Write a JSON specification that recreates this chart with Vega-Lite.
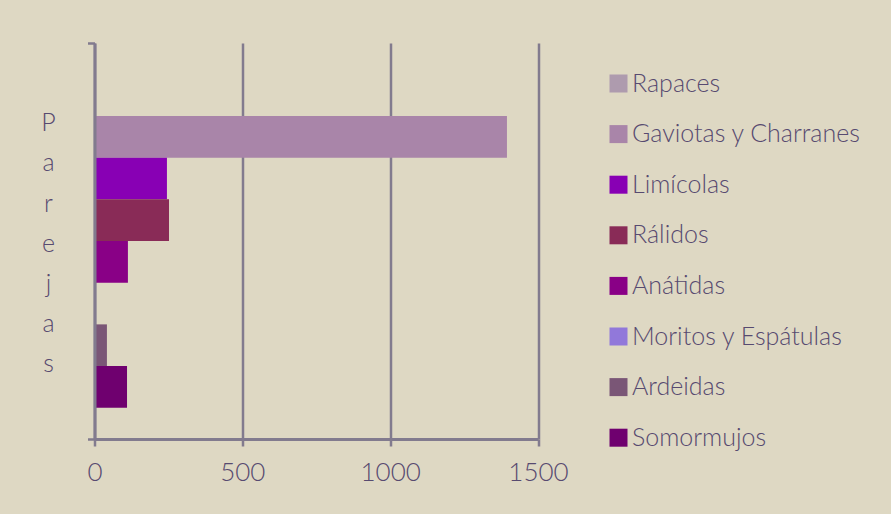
{
  "$schema": "https://vega.github.io/schema/vega-lite/v6.json",
  "width": 443.5,
  "height": 396,
  "autosize": {"type": "none"},
  "padding": {"left": 94.5, "top": 43, "right": 353, "bottom": 75},
  "background": "#ded8c3",
  "config": {
    "font": "Lato",
    "view": {"stroke": null},
    "axis": {"labelColor": "#574a70", "titleColor": "#574a70"}
  },
  "data": {
    "values": [
      {"especie": "Rapaces", "parejas": 0, "grupo": "Parejas"},
      {"especie": "Gaviotas y Charranes", "parejas": 1395, "grupo": "Parejas"},
      {"especie": "Limícolas", "parejas": 245, "grupo": "Parejas"},
      {"especie": "Rálidos", "parejas": 252, "grupo": "Parejas"},
      {"especie": "Anátidas", "parejas": 113, "grupo": "Parejas"},
      {"especie": "Moritos y Espátulas", "parejas": 0, "grupo": "Parejas"},
      {"especie": "Ardeidas", "parejas": 42, "grupo": "Parejas"},
      {"especie": "Somormujos", "parejas": 110, "grupo": "Parejas"}
    ]
  },
  "layer": [
    {
      "mark": {"type": "bar", "opacity": 0},
      "encoding": {
        "y": {
          "field": "grupo",
          "type": "nominal",
          "scale": {"paddingInner": 0, "paddingOuter": 0},
          "axis": {
            "title": ["P", "a", "r", "e", "j", "a", "s"],
            "labels": false,
            "grid": false,
            "bandPosition": 1,
            "tickExtra": true,
            "tickSize": 7,
            "tickColor": "#827b8e",
            "tickWidth": 2.5,
            "domainColor": "#827b8e",
            "domainWidth": 3,
            "zindex": 1,
            "titleAngle": 0,
            "titleX": -46.5,
            "titleY": 87.7,
            "titleAlign": "center",
            "titleBaseline": "alphabetic",
            "titleLineHeight": 40.2,
            "titleFontSize": 25,
            "titleFontWeight": 300
          }
        },
        "x": {
          "field": "parejas",
          "type": "quantitative",
          "scale": {"domain": [0, 1500], "nice": false},
          "axis": {
            "title": null,
            "values": [0, 500, 1000, 1500],
            "format": "d",
            "labelFlush": false,
            "labelOverlap": false,
            "grid": true,
            "gridColor": "#827b8e",
            "gridWidth": 2.5,
            "domainColor": "#827b8e",
            "domainWidth": 3,
            "tickColor": "#827b8e",
            "tickWidth": 2.5,
            "tickSize": 7,
            "labelFontSize": 26,
            "labelFontWeight": 300,
            "labelPadding": 13,
            "zindex": 0
          }
        }
      }
    },
    {
      "mark": {"type": "bar"},
      "encoding": {
        "y": {
          "field": "especie",
          "type": "nominal",
          "sort": ["Rapaces", "Gaviotas y Charranes", "Limícolas", "Rálidos", "Anátidas", "Moritos y Espátulas", "Ardeidas", "Somormujos"],
          "scale": {"paddingInner": 0, "paddingOuter": 0.75},
          "axis": null
        },
        "x": {
          "field": "parejas",
          "type": "quantitative",
          "scale": {"domain": [0, 1500], "nice": false}
        },
        "color": {
          "field": "especie",
          "type": "nominal",
          "scale": {
            "domain": ["Rapaces", "Gaviotas y Charranes", "Limícolas", "Rálidos", "Anátidas", "Moritos y Espátulas", "Ardeidas", "Somormujos"],
            "range": ["#ae9bae", "#a985a9", "#8800b4", "#892b57", "#890086", "#9178da", "#7a5676", "#6f006f"]
          },
          "legend": {
            "title": null,
            "orient": "none",
            "legendX": 511.5,
            "legendY": 28,
            "symbolType": "square",
            "symbolSize": 324,
            "symbolStrokeWidth": 0,
            "symbolOpacity": 1,
            "labelFontSize": 25,
            "labelFontWeight": 300,
            "labelColor": "#574a70",
            "labelOffset": 1,
            "rowPadding": 24.6,
            "padding": 0,
            "labelLimit": 400
          }
        }
      }
    }
  ],
  "resolve": {"scale": {"y": "independent"}}
}
